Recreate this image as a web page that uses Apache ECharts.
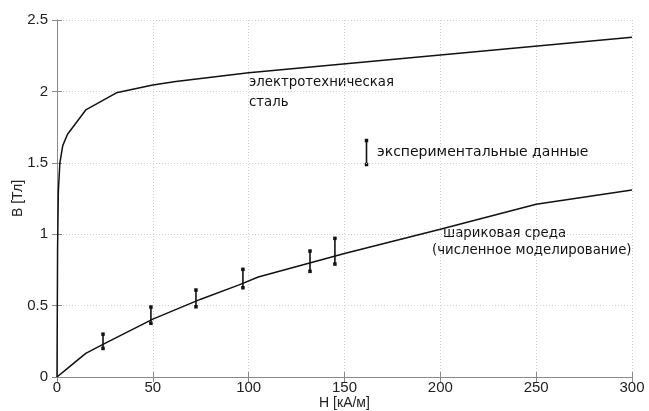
<!DOCTYPE html>
<html>
<head>
<meta charset="utf-8">
<script src="https://cdn.jsdelivr.net/npm/echarts@6/dist/echarts.min.js"></script>
<style>
  html, body { margin: 0; padding: 0; background: #fff; }
  #chart { width: 649px; height: 411px; }
</style>
</head>
<body>
<div id="chart"></div>
<script>
// кривая B(H) электротехнической стали
var steelH = [0, 0.3, 0.7, 1.5, 3, 5.5, 15, 31, 50, 62, 100, 200, 300];
var steelB = [0, 0.9, 1.3, 1.5, 1.62, 1.7, 1.87, 1.99, 2.045, 2.07, 2.13, 2.255, 2.38];

// шариковая среда, численное моделирование
var ballH = [0, 5, 15, 25, 50, 75, 95, 105, 150, 200, 250, 300];
var ballB = [0, 0.055, 0.165, 0.235, 0.405, 0.545, 0.645, 0.70, 0.865, 1.035, 1.21, 1.31];

// экспериментальные данные (интервалы)
var expH = [24, 49, 72.5, 97, 132, 145];
var expLow = [0.20, 0.376, 0.492, 0.625, 0.74, 0.791];
var expHigh = [0.30, 0.49, 0.609, 0.754, 0.882, 0.971];

var xTicks = [0, 50, 100, 150, 200, 250, 300];
var yTicks = [0, 0.5, 1, 1.5, 2, 2.5];

var zip = function (xs, ys) { return xs.map(function (x, i) { return [x, ys[i]]; }); };

var chart = echarts.init(document.getElementById('chart'));

var axisCommon = {
  type: 'value',
  axisLine: { show: true, lineStyle: { color: '#8a8a8a', width: 1 } },
  axisTick: { show: true, inside: true, length: 5, lineStyle: { color: '#8a8a8a' } },
  splitLine: { show: false }
};

var option = {
  animation: false,
  grid: { left: 57, right: 17, top: 20, bottom: 34, containLabel: false, outerBoundsMode: 'none' },
  xAxis: [
    Object.assign({}, axisCommon, {
      min: xTicks[0], max: xTicks[xTicks.length - 1], interval: 50,
      name: 'H [кА/м]', nameLocation: 'middle', nameGap: 19, nameMoveOverlap: false,
      nameTextStyle: { fontFamily: 'Liberation Sans', fontSize: 14, color: '#222' },
      axisLabel: { fontFamily: 'Liberation Sans', fontSize: 15, color: '#222', margin: 3 },
      splitLine: { show: true, lineStyle: { color: '#cfcfcf', type: [1, 2] } }
    }),
    Object.assign({}, axisCommon, {
      position: 'top', min: xTicks[0], max: xTicks[xTicks.length - 1], interval: 50,
      axisLabel: { show: false }
    })
  ],
  yAxis: [
    Object.assign({}, axisCommon, {
      min: yTicks[0], max: yTicks[yTicks.length - 1], interval: 0.5,
      name: 'B [Тл]', nameLocation: 'middle', nameGap: 32, nameMoveOverlap: false,
      nameTextStyle: { fontFamily: 'Liberation Sans', fontSize: 14, color: '#222' },
      axisLabel: { fontFamily: 'Liberation Sans', fontSize: 15, color: '#222', margin: 9 },
      splitLine: { show: true, lineStyle: { color: '#cfcfcf', type: [1, 2] } }
    }),
    Object.assign({}, axisCommon, {
      position: 'right', min: yTicks[0], max: yTicks[yTicks.length - 1], interval: 0.5,
      axisLabel: { show: false }
    })
  ],
  series: [
    {
      name: 'сталь', type: 'line', data: zip(steelH, steelB),
      showSymbol: false, lineStyle: { color: '#111', width: 1.5 }, z: 3
    },
    {
      name: 'шариковая среда', type: 'line', data: zip(ballH, ballB),
      showSymbol: false, lineStyle: { color: '#111', width: 1.5 }, z: 3
    },
    {
      name: 'эксперимент', type: 'custom', z: 4,
      data: expH.map(function (h, i) { return [h, expLow[i], expHigh[i]]; }),
      renderItem: function (params, api) {
        var lo = api.coord([api.value(0), api.value(1)]);
        var hi = api.coord([api.value(0), api.value(2)]);
        var s = 3.5;
        return {
          type: 'group',
          children: [
            { type: 'line', shape: { x1: lo[0], y1: lo[1], x2: hi[0], y2: hi[1] },
              style: { stroke: '#111', lineWidth: 1.6 } },
            { type: 'rect', shape: { x: lo[0] - s / 2, y: lo[1] - s / 2, width: s, height: s },
              style: { fill: '#111' } },
            { type: 'rect', shape: { x: hi[0] - s / 2, y: hi[1] - s / 2, width: s, height: s },
              style: { fill: '#111' } }
          ]
        };
      }
    }
  ],
  graphic: [
    { type: 'text', left: 249, top: 73,
      style: { text: 'электротехническая\nсталь', font: '13.3px "DejaVu Sans"', fill: '#111', lineHeight: 20 } },
    { type: 'text', left: 443, top: 227,
      style: { text: 'шариковая среда', font: '13.3px "DejaVu Sans"', fill: '#111' } },
    { type: 'text', left: 432, top: 244,
      style: { text: '(численное моделирование)', font: '13.3px "DejaVu Sans"', fill: '#111' } },
    { type: 'text', left: 377, top: 145,
      style: { text: 'экспериментальные данные', font: '14px "DejaVu Sans"', fill: '#111' } },
    { type: 'group', left: 364, top: 138, children: [
      { type: 'line', shape: { x1: 1.75, y1: 1.75, x2: 1.75, y2: 25.75 }, style: { stroke: '#111', lineWidth: 1.6 } },
      { type: 'rect', shape: { x: 0, y: 0, width: 3.5, height: 3.5 }, style: { fill: '#111' } },
      { type: 'rect', shape: { x: 0, y: 24, width: 3.5, height: 3.5 }, style: { fill: '#111' } }
    ] }
  ]
};

chart.setOption(option);
</script>
</body>
</html>
